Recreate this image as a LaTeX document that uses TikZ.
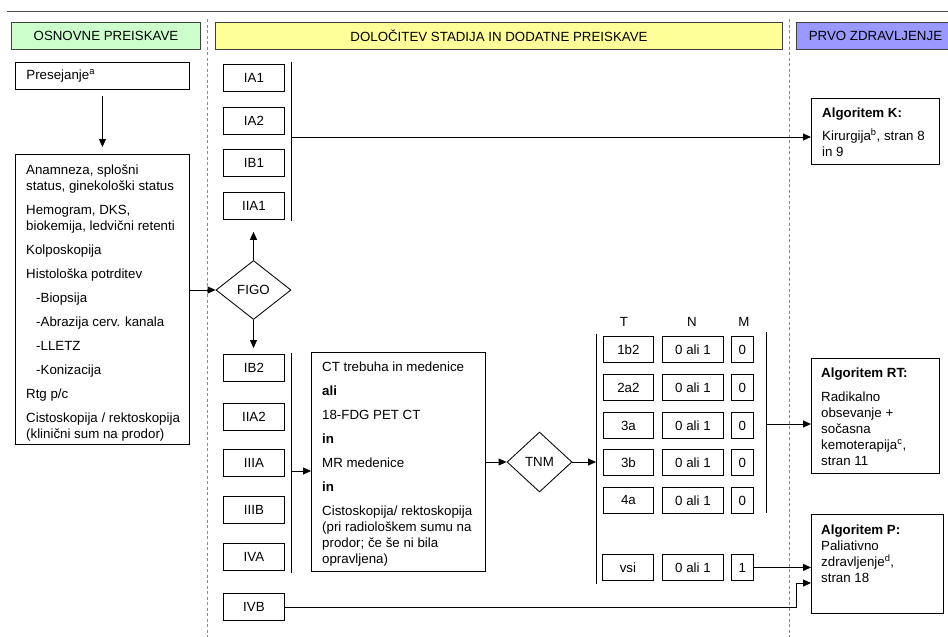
\documentclass[tikz,border=0pt]{standalone}
\usepackage{fontspec}
\setmainfont{Liberation Sans}
\usetikzlibrary{arrows.meta,shapes.geometric}
\definecolor{hgreen}{HTML}{CCFFCC}
\definecolor{hyellow}{HTML}{FFFF99}
\definecolor{hblue}{HTML}{9999FF}
\tikzset{
  every node/.style={font=\fontsize{13.3}{16}\selectfont},
  box/.style={draw, line width=0.85pt, anchor=north west, inner sep=0pt, align=center},
  hdr/.style={box, draw=black!75, line width=0.95pt},
  txt/.style={anchor=north west, inner sep=0pt, align=left},
  dia/.style={draw, line width=0.85pt, diamond, inner sep=0pt},
  arr/.style={line width=0.85pt, -{Triangle[length=8pt,width=7pt]}},
  ln/.style={line width=0.85pt},
  sep/.style={draw=black!45, line width=0.7pt, dash pattern=on 3pt off 2.5pt},
}
\begin{document}
\begin{tikzpicture}[x=1pt,y=-1pt]
\useasboundingbox (0,0) rectangle (948,637);
% top rule and separators
\coordinate (tl) at (7,11.5); \coordinate (tr) at (948,11.5);
\draw[black!70, line width=0.9pt] (tl) -- (tr);
\coordinate (s1t) at (207,19); \coordinate (s1b) at (207,637);
\coordinate (s2t) at (789,19); \coordinate (s2b) at (789,637);
\draw[sep] (s1t) -- (s1b);
\draw[sep] (s2t) -- (s2b);
% headers
\node[hdr, fill=hgreen, minimum width=189pt, minimum height=27pt] (h1) at (11,22) {OSNOVNE PREISKAVE};
\node[hdr, fill=hyellow, minimum width=567pt, minimum height=27pt] (h2) at (215,22) {DOLOČITEV STADIJA IN DODATNE PREISKAVE};
\node[hdr, fill=hblue, minimum width=158pt, minimum height=27pt] (h3) at (796,22) {PRVO ZDRAVLJENJE};
% left column
\node[box, minimum width=174pt, minimum height=27pt, text width=152pt, inner xsep=11pt, align=left] (pres) at (15,62) {Presejanje\textsuperscript{a}};
\node[box, minimum width=174pt, minimum height=290pt] (lbox) at (15,154) {};
\node[txt] (ltxt) at (26,165) {Anamneza, splošni\\status, ginekološki status\\[8pt]
Hemogram, DKS,\\biokemija, ledvični retenti\\[8pt]
Kolposkopija\\[8pt]
Histološka potrditev\\[8pt]
\hspace*{10pt}-Biopsija\\[8pt]
\hspace*{10pt}-Abrazija cerv. kanala\\[8pt]
\hspace*{10pt}-LLETZ\\[8pt]
\hspace*{10pt}-Konizacija\\[8pt]
Rtg p/c\\[8pt]
Cistoskopija / rektoskopija\\(klinični sum na prodor)};
\draw[arr] ([yshift=-6pt]pres.south) -- ([yshift=7pt]lbox.north);
% upper stages
\node[box, minimum width=61pt, minimum height=27pt] (ia1) at (223,64) {IA1};
\node[box, minimum width=61pt, minimum height=27pt] (ia2) at (223,107) {IA2};
\node[box, minimum width=61pt, minimum height=27pt] (ib1) at (223,149) {IB1};
\node[box, minimum width=61pt, minimum height=27pt] (iia1) at (223,192) {IIA1};
\coordinate (b1t) at (291,62); \coordinate (b1b) at (291,221); \coordinate (b1m) at (291,137);
\draw[ln] (b1t) -- (b1b);
% FIGO
\node[dia, minimum width=75pt, minimum height=59pt] (figo) at (253.5,290) {FIGO};
\draw[arr] (figo.west -| lbox.east) -- (figo.west);
\draw[arr] (figo.north) -- ([yshift=-12pt]iia1.south -| figo.north);
% lower stages
\node[box, minimum width=61pt, minimum height=27pt] (ib2) at (223,354) {IB2};
\node[box, minimum width=61pt, minimum height=27pt] (iia2) at (223,403) {IIA2};
\node[box, minimum width=61pt, minimum height=27pt] (iiia) at (223,449) {IIIA};
\node[box, minimum width=61pt, minimum height=27pt] (iiib) at (223,496) {IIIB};
\node[box, minimum width=61pt, minimum height=27pt] (iva) at (223,543) {IVA};
\node[box, minimum width=61pt, minimum height=27pt] (ivb) at (223,593) {IVB};
\draw[arr] (figo.south) -- ([yshift=6pt]ib2.north -| figo.south);
\coordinate (b2t) at (291,353); \coordinate (b2b) at (291,573); \coordinate (b2m) at (291,471);
\draw[ln] (b2t) -- (b2b);
% CT box
\node[box, minimum width=174pt, minimum height=219pt] (ct) at (311,352) {};
\node[txt] (cttxt) at (322,362) {CT trebuha in medenice\\[8pt]
\textbf{ali}\\[8pt]
18-FDG PET CT\\[8pt]
\textbf{in}\\[8pt]
MR medenice\\[8pt]
\textbf{in}\\[8pt]
Cistoskopija/ rektoskopija\\(pri radiološkem sumu na\\prodor; če še ni bila\\opravljena)};
\draw[arr] (b2m) -- (b2m -| ct.west);
% TNM
\node[dia, minimum width=65pt, minimum height=60pt] (tnm) at (539.5,462) {TNM};
\draw[arr] (ct.east |- tnm.west) -- (tnm.west);
\coordinate (b3t) at (596,334); \coordinate (b3b) at (596,584); \coordinate (b3m) at (596,462);
\draw[ln] (b3t) -- (b3b);
\draw[arr] (tnm.east) -- (b3m);
% table
\node (hT) at (624,322) {T};
\node (hN) at (692,322) {N};
\node (hM) at (744,322) {M};
\foreach \r/\t/\y in {1/1b2/336, 2/2a2/374, 3/3a/412, 4/3b/449, 5/4a/487}{
  \node[box, minimum width=50pt, minimum height=26pt] (t\r) at (603,\y) {\t};
  \node[box, minimum width=61pt, minimum height=26pt] (n\r) at (662,\y) {0 ali 1};
  \node[box, minimum width=22pt, minimum height=26pt] (m\r) at (731,\y) {0};
}
\node[box, minimum width=51pt, minimum height=26pt] (t6) at (602,554) {vsi};
\node[box, minimum width=61pt, minimum height=26pt] (n6) at (662,554) {0 ali 1};
\node[box, minimum width=22pt, minimum height=26pt] (m6) at (731,554) {1};
\coordinate (b4t) at (766,332); \coordinate (b4b) at (766,513); \coordinate (b4m) at (766,424);
\draw[ln] (b4t) -- (b4b);
% right boxes
\node[box, minimum width=128pt, minimum height=66pt] (kbox) at (811,98) {};
\node[txt] (ktxt) at (822,108) {\textbf{Algoritem K:}\\[7pt]Kirurgija\textsuperscript{b}, stran 8\\in 9};
\node[box, minimum width=128pt, minimum height=115pt] (rtbox) at (811,358) {};
\node[txt] (rttxt) at (821,368) {\textbf{Algoritem RT:}\\[8pt]Radikalno\\obsevanje +\\sočasna\\kemoterapija\textsuperscript{c},\\stran 11};
\node[box, minimum width=132pt, minimum height=99pt] (pbox) at (811,514) {};
\node[txt] (ptxt) at (821,525) {\textbf{Algoritem P:}\\Paliativno\\zdravljenje\textsuperscript{d},\\stran 18};
% connectors to treatment
\draw[arr] (b1m) -- (b1m -| kbox.west);
\draw[arr] (b4m) -- (b4m -| rtbox.west);
\draw[arr] (m6.east) -- (m6.east -| pbox.west);
\coordinate (turn) at (796,583);
\draw[arr] (ivb.east) -| (turn) -- (turn -| pbox.west);
\end{tikzpicture}
\end{document}
